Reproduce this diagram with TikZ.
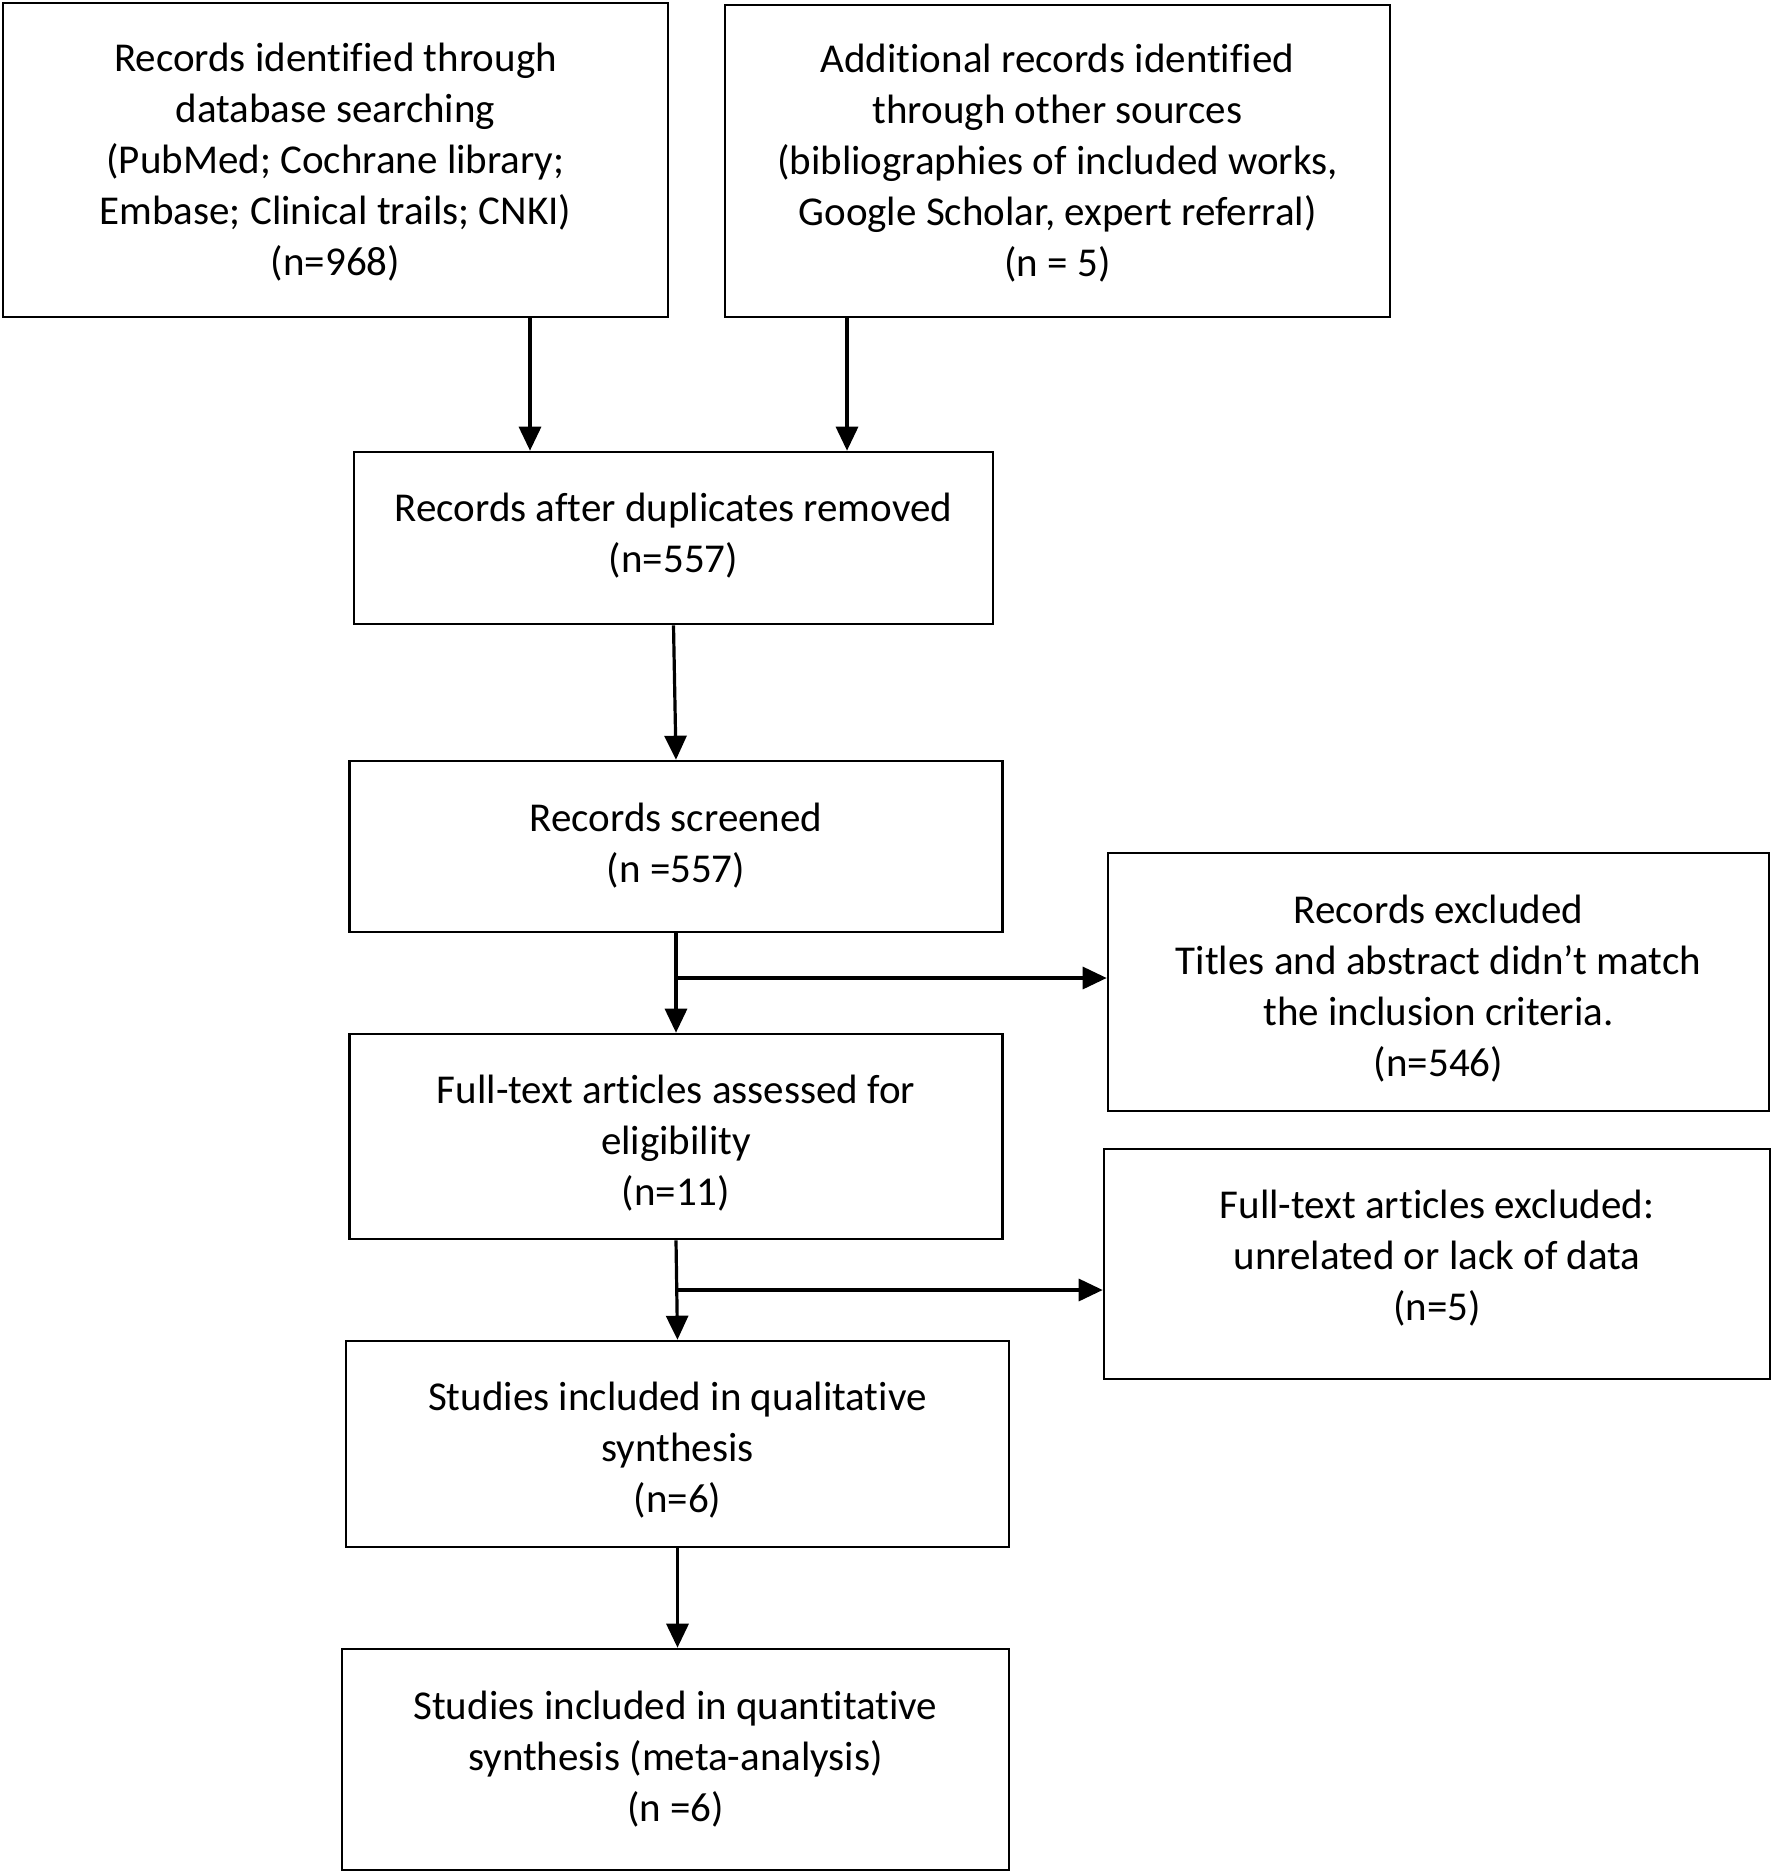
\documentclass[tikz,border=0pt]{standalone}
\usepackage{fontspec}
\setmainfont{Carlito}[Ligatures={NoCommon}]
\usetikzlibrary{arrows.meta,calc}
\begin{document}
\begin{tikzpicture}[x=0.5pt,y=-0.5pt,
  box/.style={draw=black,line width=1.3pt,inner sep=0pt},
  txt/.style={align=center,inner sep=0pt,font=\fontsize{20.5}{25.5}\selectfont},
  arr/.style={line width=1.6pt,-{Triangle[length=12pt,width=11pt]}}]
\useasboundingbox (0,0) rectangle (1772,1873);
\node[box,minimum width=665*0.5pt,minimum height=314*0.5pt] (b1) at (335.5,160) {};
\node[box,minimum width=665*0.5pt,minimum height=312*0.5pt] (b2) at (1057.5,161) {};
\node[box,minimum width=639*0.5pt,minimum height=172*0.5pt] (b3) at (673.5,538) {};
\node[box,minimum width=653*0.5pt,minimum height=171*0.5pt] (b4) at (676,846.5) {};
\node[box,minimum width=653*0.5pt,minimum height=205*0.5pt] (b5) at (676,1136.5) {};
\node[box,minimum width=661*0.5pt,minimum height=258*0.5pt] (b6) at (1438.5,982) {};
\node[box,minimum width=666*0.5pt,minimum height=230*0.5pt] (b7) at (1437,1264) {};
\node[box,minimum width=663*0.5pt,minimum height=206*0.5pt] (b8) at (677.5,1444) {};
\node[box,minimum width=667*0.5pt,minimum height=221*0.5pt] (b9) at (675.5,1759.5) {};
\node[txt] (t1) at ($(b1.center)+(0,2.5)$)
  {Records identified through\\database searching\\(PubMed; Cochrane library;\\Embase; Clinical trails; CNKI)\\(n=968)};
\node[txt] (t2) at ($(b2.center)+(0,2.5)$)
  {Additional records identified\\through other sources\\(bibliographies of included works,\\Google Scholar, expert referral)\\(n = 5)};
\node[txt] (t3) at ($(b3.center)+(0,-2)$)
  {Records after duplicates removed\\(n=557)};
\node[txt] (t4) at ($(b4.center)+(0,-1)$)
  {Records screened\\(n =557)};
\node[txt] (t5) at ($(b5.center)+(0,7)$)
  {Full-text articles assessed for\\eligibility\\(n=11)};
\node[txt] (t6) at ($(b6.center)+(0,7)$)
  {Records excluded\\Titles and abstract didn’t match\\the inclusion criteria.\\(n=546)};
\node[txt] (t7) at ($(b7.center)+(0,-6)$)
  {Full-text articles excluded:\\unrelated or lack of data\\(n=5)};
\node[txt] (t8) at ($(b8.center)+(0,6)$)
  {Studies included in qualitative\\synthesis\\(n=6)};
\node[txt] (t9) at (b9.center)
  {Studies included in quantitative\\synthesis (meta-analysis)\\(n =6)};
\coordinate (c1) at (530,0);
\coordinate (c2) at (847,0);
\coordinate (j1) at (676,978);
\coordinate (j2) at (677,1290);
\draw[arr] (b1.south -| c1) -- (b3.north -| c1);
\draw[arr] (b2.south -| c2) -- (b3.north -| c2);
\draw[arr] (b3.south) -- (b4.north);
\draw[arr] (b4.south) -- (b5.north);
\draw[arr] (j1) -- (j1 -| b6.west);
\draw[arr] (b5.south) -- (b8.north);
\draw[arr] (j2) -- (j2 -| b7.west);
\draw[arr] (b8.south) -- (b8.south |- b9.north);
\end{tikzpicture}
\end{document}
